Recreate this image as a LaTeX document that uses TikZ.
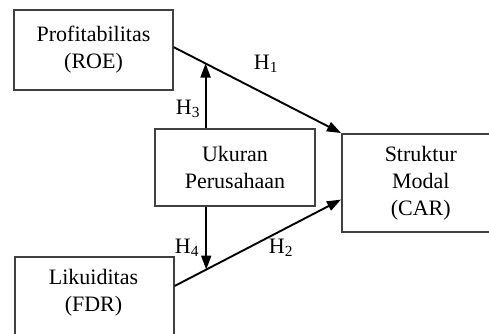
\documentclass[tikz,border=0pt]{standalone}
\usepackage{fontspec}
\setmainfont{Liberation Serif}
\usetikzlibrary{arrows.meta,calc}
\begin{document}
\begin{tikzpicture}[x=1pt,y=-1pt,
  box/.style={draw=black!75, line width=1.6pt, align=center, font=\fontsize{22}{27}\selectfont, inner sep=0pt},
  arr/.style={line width=1.9pt, -{Triangle[length=14pt,width=10pt]}},
  hl/.style={font=\fontsize{22}{27}\selectfont, inner sep=0pt, align=center}]
\useasboundingbox (0,0) rectangle (489,334);
\clip (0,0) rectangle (489,334);
\node[box, minimum width=159pt, minimum height=80pt] (prof) at (93.5,50) {Profitabilitas\\(ROE)};
\node[box, minimum width=160pt, minimum height=77pt] (uk) at (235,167.5) {Ukuran\\Perusahaan};
\node[box, minimum width=159pt, minimum height=100pt, anchor=north west] (liq) at (14,256) {};
\node[hl] (liqt) at (93.5,293) {Likuiditas\\(FDR)};
\node[box, minimum width=158pt, minimum height=98pt, anchor=north west] (str) at (341,133) {Struktur\\Modal\\(CAR)};
\coordinate (s1) at ($(prof.north east)+(0,38)$);
\coordinate (s2) at ($(liq.north east)+(0,30)$);
\coordinate (e2) at ($(str.south west)+(0,-33)$);
\draw[arr] (s1) -- coordinate[pos=0.19] (m1) (str.north west);
\draw[arr] (s2) -- coordinate[pos=0.19] (m2) (e2);
\draw[arr] (m1 |- uk.north) -- (m1);
\draw[arr] (m2 |- uk.south) -- (m2);
\node[hl] (h1) at (266,64) {H\textsubscript{1}};
\node[hl] (h3) at (188,109) {H\textsubscript{3}};
\node[hl] (h4) at (187,248) {H\textsubscript{4}};
\node[hl] (h2) at (281,248) {H\textsubscript{2}};
\end{tikzpicture}
\end{document}
